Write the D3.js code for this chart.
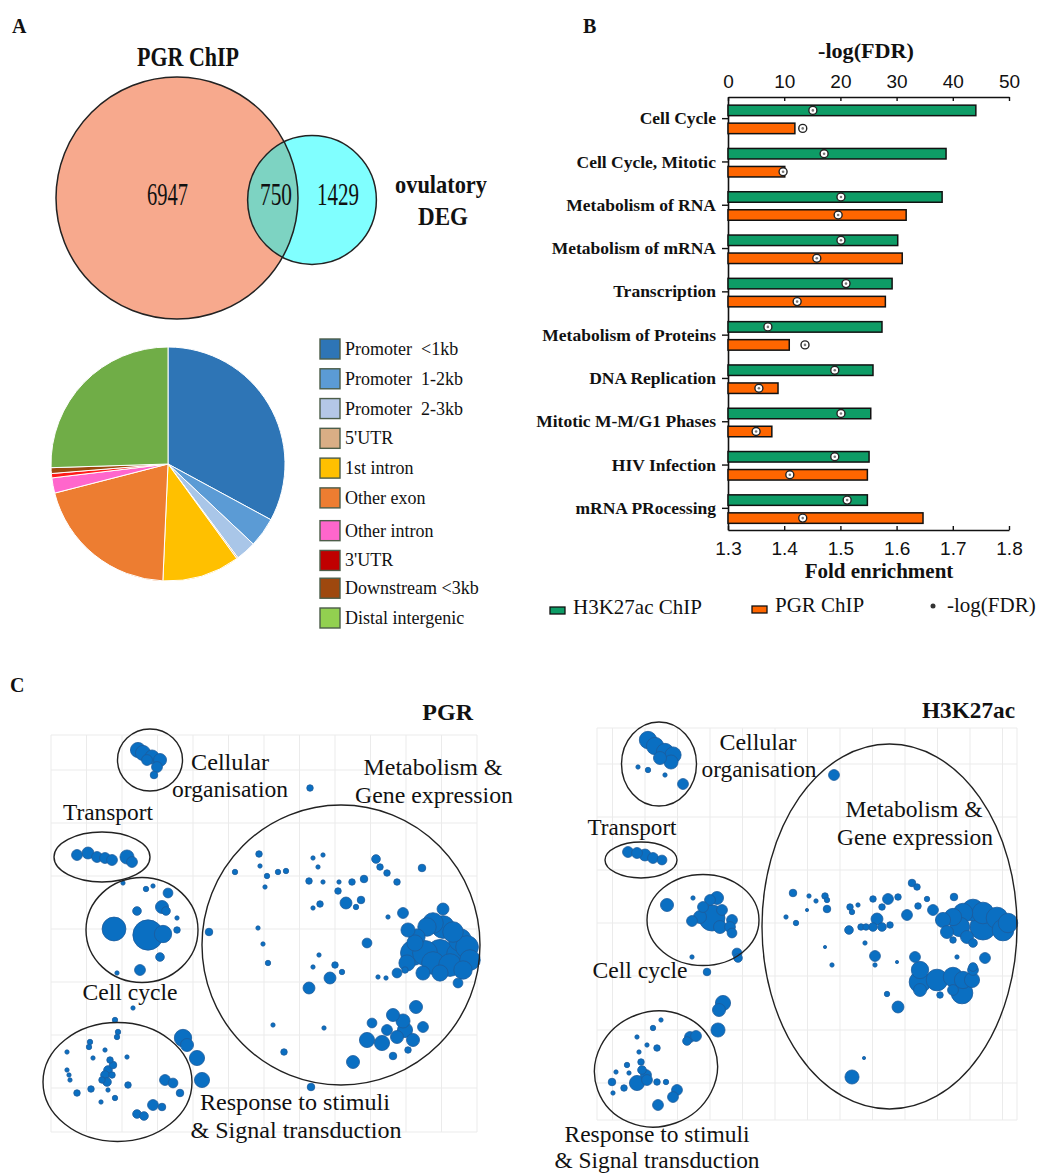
<!DOCTYPE html>
<html>
<head>
<meta charset="utf-8">
<script src="https://cdn.jsdelivr.net/npm/d3@7"></script>
<style>
  body { margin: 0; background: #fff; }
  svg { display: block; }
  text { font-family: "Liberation Serif", "Times New Roman", serif; fill: #111; white-space: pre; }
</style>
</head>
<body>
<svg id="fig" width="1044" height="1175"></svg>
<script>
// ---------- Panel A: overlap of PGR ChIP targets and ovulatory DEGs ----------
const vennOnlyPGR = 6947;
const vennShared = 750;
const vennOnlyDEG = 1429;

// ---------- Panel A: genomic distribution of PGR peaks ----------
const peakCategories = ["Promoter  <1kb", "Promoter  1-2kb", "Promoter  2-3kb", "5'UTR", "1st intron",
  "Other exon", "Other intron", "3'UTR", "Downstream <3kb", "Distal intergenic"];
const peakPercent = [32.9, 4.1, 2.8, 0.2, 10.7, 20.3, 2.1, 0.6, 0.8, 25.5];
const pieColors = ["#2E75B6", "#5B9BD5", "#A9C6E8", "#D9AE85", "#FFC000", "#ED7D31", "#FF66CC", "#FF1A1A", "#9E480E", "#70AD47"];
const legendColors = ["#2E75B6", "#5B9BD5", "#B4C7E7", "#D9AE85", "#FFC000", "#ED7D31", "#FF66CC", "#C00000", "#9E480E", "#92D050"];

// ---------- Panel B: Reactome pathway enrichment ----------
const pathways = ["Cell Cycle", "Cell Cycle, Mitotic", "Metabolism of RNA", "Metabolism of mRNA", "Transcription",
  "Metabolism of Proteins", "DNA Replication", "Mitotic M-M/G1 Phases", "HIV Infection", "mRNA PRocessing"];
const foldH3K27ac = [1.741, 1.688, 1.681, 1.602, 1.592, 1.574, 1.558, 1.554, 1.551, 1.548];
const foldPGR     = [1.419, 1.401, 1.617, 1.610, 1.580, 1.409, 1.389, 1.378, 1.548, 1.647];
const fdrH3K27ac  = [15.1, 17.1, 20.1, 20.1, 21.0, 7.1, 19.0, 20.1, 19.0, 21.2];
const fdrPGR      = [13.3, 9.8, 19.6, 15.8, 12.3, 13.7, 5.5, 5.0, 11.0, 13.3];
const fdrTicks  = [0, 10, 20, 30, 40, 50];
const foldTicks = [1.3, 1.4, 1.5, 1.6, 1.7, 1.8];

// ---------- Panel C: GO terms in semantic space [x, y, size] ----------
const pgrTerms = [
  [8.7,38.2,7],[9.2,37.9,7],[10.1,37.5,6.5],[10.9,37.2,6],[10.6,36.5,5],[10.3,35.7,3.5],[9.6,37.2,5],
  [25.9,34.4,3],
  [2.6,27.7,5],[3.7,27.9,5.5],[4.6,27.5,5],[5.4,27.4,5],[6.1,27.2,5],[7.6,27.5,6.5],[8.1,27.0,5],
  [7.2,24.9,2],[9.5,24.3,2.5],[10.2,24.6,2],[11.7,23.9,4.5],[8.6,22.1,4],[11.1,22.5,6],[11.5,22.1,4],
  [12.6,21.4,2],[6.3,20.3,11],[9.7,19.7,14],[11.2,19.8,8],[12.6,20.2,3],[10.9,17.5,4],[8.9,16.2,5],[6.6,15.9,2],
  [15.8,20.0,3.5],[20.8,27.8,3],[20.9,26.6,2],[18.4,26.0,2.5],[21.6,25.6,2.5],[21.4,24.5,2],[22.7,26.0,2.5],
  [23.5,26.1,2.5],[26.2,27.4,2],[27.2,27.7,2],[26.7,26.5,2],[25.8,25.1,3],[27.2,25.0,2],[28.8,25.0,2],
  [30.1,25.0,3],[31.3,25.3,3.5],[28.7,24.1,3],[29.5,22.9,5.5],[31.0,23.2,3.5],[30.5,22.5,2.5],[26.9,22.8,3],
  [26.2,22.4,2],[32.5,27.3,4],[32.9,26.5,3],[33.6,25.9,3],[34.6,25.0,3],[37.1,26.4,3.5],[33.7,21.5,2],
  [35.2,21.9,5],[20.7,20.4,2],[21.2,18.8,2],[21.7,16.9,2.5],[31.6,18.9,4.5],[26.8,17.7,2],[26.2,16.5,2],
  [28.4,16.7,3],[29.1,16.0,2.5],[27.9,15.4,5.5],[25.8,14.4,5.5],[32.7,15.5,2],[33.5,15.4,2],[34.6,15.9,4.5],
  [35.4,16.2,3],[40.7,14.9,4.5],[39.2,22.3,5.5],
  [35.7,20.2,6.5],[36.6,19.5,7.5],[37.6,20.5,8.5],[38.2,20.9,9.5],[39.2,20.5,10.5],[40.2,20.0,9.5],[40.9,19.2,10.5],
  [41.6,18.5,10.5],[36.2,17.9,11.5],[37.4,17.9,11.5],[38.9,17.9,12.5],[40.9,17.7,12.5],[41.9,17.2,9.5],[38.2,16.9,10.5],
  [39.9,16.7,10.5],[37.2,15.9,6.5],[38.9,15.9,7.5],[41.2,16.2,8.5],[35.6,16.9,7.5],[36.4,18.9,7.5],
  [36.5,12.5,6],[34.2,11.7,6],[35.2,11.1,6.5],[32.1,10.9,4.5],[33.6,10.2,5],[31.6,9.2,7],[33.1,8.9,7],
  [34.6,9.5,6],[35.4,10.2,7],[36.2,9.2,6],[37.2,10.5,5],[35.7,8.2,3],[34.2,7.6,3.5],[30.2,7.0,6],
  [22.2,10.7,2],[27.3,10.4,2],[23.3,8.0,3],[26.0,4.5,3.5],
  [13.2,9.4,8],[13.6,8.7,6],[14.6,7.4,7],[15.1,5.2,7],
  [6.4,11.2,2.5],[8.2,12.4,2],[6.7,10.0,2.5],[6.6,9.5,2.5],[3.9,9.0,2.5],[3.8,8.5,2.5],[1.6,8.0,2],
  [5.4,8.2,2],[7.6,7.5,2],[4.2,7.4,2],[5.9,7.2,3],[6.2,6.7,3.5],[5.7,6.2,4],[5.4,5.7,4],[6.1,5.7,3],
  [5.1,5.2,3],[5.6,5.0,4],[1.6,6.2,2],[1.8,5.7,2],[1.9,5.2,2],[7.7,4.7,3],[2.6,3.9,3],[4.0,4.3,3],
  [5.0,3.0,2],[6.4,3.4,2.5],[11.4,5.2,5],[12.2,4.9,4.5],[12.9,3.9,3.5],[10.2,2.7,5],[11.1,2.5,3.5],
  [8.6,1.8,4],[9.3,1.6,4],[5.7,4.2,2]
];

const h3Terms = [
  [5.1,38.0,8],[5.8,37.4,8],[6.8,36.8,8],[7.6,36.5,7.5],[7.4,35.8,6.5],[6.3,36.2,6],
  [4.1,35.3,2],[5.1,35.0,2.5],[6.8,34.5,2],[8.6,33.6,5],
  [23.7,34.5,5],
  [3.1,26.8,5],[4.0,26.7,5],[4.8,26.5,5.5],[5.6,26.2,5],[6.5,26.0,4.5],
  [7.0,21.5,6],[9.6,22.2,2],[11.3,22.0,5],[12.0,22.2,6],[10.6,21.3,5],[11.5,20.2,12],[10.3,20.3,6],
  [9.5,19.9,5],[12.5,21.0,5],[13.5,20.0,5],[13.3,19.3,5],[12.3,19.3,6],[13.5,18.7,4.5],[9.5,16.3,2],
  [14.0,16.7,4.5],[14.1,16.2,4],[11.0,14.8,3.5],
  [12.6,11.7,7],[12.2,11.0,6],[12.1,9.0,6.5],
  [6.4,10.0,2],[5.6,9.2,2.5],[9.3,8.3,5],[9.9,8.4,5],[9.0,7.9,4],[4.0,8.3,2],[5.0,7.5,2],[6.0,7.2,3],
  [4.2,6.8,2],[4.4,5.8,3],[3.0,5.5,2.5],[4.5,5.0,4],[4.9,4.5,5],[5.0,4.0,5],[4.0,3.7,7],[1.9,4.8,2],
  [3.2,4.7,2],[1.5,3.8,3.5],[2.7,3.2,3],[1.6,2.7,2],[6.0,3.8,3],[6.9,3.8,2.5],[8.0,3.0,5],[7.6,2.3,5],
  [6.1,1.5,5],
  [31.5,23.7,3.5],[32.0,23.3,3],[19.6,22.7,3.5],[21.2,22.4,2],[21.9,21.9,2],[22.8,22.4,3],[23.0,22.0,2.5],
  [27.6,22.1,3],[29.1,22.1,5],[30.1,22.3,3],[33.0,22.1,2.5],[35.7,22.3,3.5],[25.3,21.3,3],[25.5,20.8,2.5],
  [26.1,21.5,2],[28.5,21.3,3],[23.0,21.1,3.5],[32.1,21.4,3],[31.0,20.5,5],[18.9,20.3,2],[19.9,19.7,2.5],
  [21.0,21.0,1.5],[28.0,20.1,5.5],[27.6,19.3,4],[28.5,19.3,4],[29.3,19.5,3],[26.4,19.3,3],[26.9,19.3,3],
  [25.2,19.0,4],[26.8,17.7,2],[22.8,17.3,1.5],[27.8,16.4,5],[27.8,15.5,2],[23.5,15.5,2],[30.0,15.8,1.5],
  [36.0,16.3,2],[38.8,16.2,5],
  [33.6,21.0,5],[34.6,20.0,7],[35.6,20.3,8],[36.6,20.7,9],[37.6,21.0,10],[38.6,20.7,10],[40.0,20.2,10],
  [41.1,19.7,9],[36.3,19.3,9],[38.6,19.3,12],[40.6,19.0,10],[35.0,18.8,6],[37.0,18.3,6],[37.6,17.7,4],
  [35.6,18.0,3],
  [31.8,16.3,5],[32.3,15.0,8],[32.3,13.8,10],[34.0,14.0,10],[35.6,14.3,9],[36.6,14.0,8],[37.6,15.0,5],
  [37.5,14.0,7],[36.5,12.7,10],[34.3,12.5,3],[35.6,13.0,5],[37.6,15.3,4],[32.3,13.0,6],
  [29.0,12.6,2.5],[30.1,11.3,5.5],[26.7,6.2,1.5],[25.5,4.3,6.5]
];

// Cluster outlines [cx, cy, rx, ry, rotation] in the same semantic units
const pgrClusters = [[9.9,37.2,3.25,3.1,0],[5.1,27.5,4.8,2.5,0],[9.1,20.2,5.6,5.25,0],[6.65,5.0,7.45,5.95,0],[29.0,18.7,13.9,14.0,0]];
const h3Clusters  = [[6.2,35.6,3.75,4.2,0],[4.4,26.0,3.6,1.8,0],[10.6,20.0,5.6,4.55,0],[5.9,5.1,6.2,5.75,-20],[29.25,19.35,12.75,18.25,0]];

// Grid lines of the semantic space plots
const pgrGridX = d3.range(0, 42.65, 3.55);
const pgrGridY = [0, 4.4, 9.7, 15.0, 20.3, 25.6, 30.9, 36.2, 39.7];
const h3GridX = [0].concat(d3.range(1.55, 42, 3.25)).concat([42]);
const h3GridY = [0, 3.7, 9.0, 14.4, 19.7, 25.0, 30.3, 35.6, 39.2];

const svg = d3.select("#fig");

function label(g, x, y, str, size, opts = {}) {
  const t = g.append("text").attr("x", x).attr("y", y).attr("font-size", size).text(str);
  if (opts.bold) t.attr("font-weight", "bold");
  if (opts.anchor) t.attr("text-anchor", opts.anchor);
  if (opts.width) t.attr("textLength", opts.width).attr("lengthAdjust", "spacingAndGlyphs");
  if (opts.family) t.style("font-family", opts.family);
  return t;
}

// ================= Panel A =================
const gA = svg.append("g");
label(gA, 12, 33, "A", 20, { bold: true });
label(gA, 188, 66, "PGR ChIP", 27, { bold: true, anchor: "middle", width: 102 });

const vennR = d3.scaleSqrt().domain([0, vennOnlyPGR + vennShared]).range([0, 121]);
const bigR = vennR(vennOnlyPGR + vennShared);
const smallR = vennR(vennOnlyDEG + vennShared);
const bigC = [177, 198], smallC = [312, 200];

svg.append("defs").append("clipPath").attr("id", "bigClip")
  .append("circle").attr("cx", bigC[0]).attr("cy", bigC[1]).attr("r", bigR);

gA.append("circle").attr("cx", bigC[0]).attr("cy", bigC[1]).attr("r", bigR).attr("fill", "#F7A98D");
gA.append("circle").attr("cx", smallC[0]).attr("cy", smallC[1]).attr("r", smallR).attr("fill", "#80FFFF");
gA.append("circle").attr("cx", smallC[0]).attr("cy", smallC[1]).attr("r", smallR)
  .attr("fill", "#7DD3C2").attr("clip-path", "url(#bigClip)");
gA.append("circle").attr("cx", bigC[0]).attr("cy", bigC[1]).attr("r", bigR)
  .attr("fill", "none").attr("stroke", "#222").attr("stroke-width", 1.5);
gA.append("circle").attr("cx", smallC[0]).attr("cy", smallC[1]).attr("r", smallR)
  .attr("fill", "none").attr("stroke", "#222").attr("stroke-width", 1.5);

label(gA, 167.5, 205, String(vennOnlyPGR), 31, { anchor: "middle", width: 41 });
label(gA, 276, 205, String(vennShared), 31, { anchor: "middle", width: 32 });
label(gA, 338, 205, String(vennOnlyDEG), 31, { anchor: "middle", width: 42 });
label(gA, 441, 193, "ovulatory", 25, { bold: true, anchor: "middle", width: 92 });
label(gA, 443, 225, "DEG", 25, { bold: true, anchor: "middle", width: 50 });

// pie of peak annotation
const pieData = peakCategories.map((c, i) => ({ c, v: peakPercent[i], i }));
const arcs = d3.pie().sort(null).value(d => d.v)(pieData);
const arcGen = d3.arc().innerRadius(0).outerRadius(117);
const gPie = gA.append("g").attr("transform", "translate(168,464)");
gPie.selectAll("path").data(arcs).join("path")
  .attr("d", arcGen)
  .attr("fill", d => pieColors[d.data.i])
  .attr("stroke", "#fff").attr("stroke-width", 1);

const legRowY = d3.scalePoint().domain(peakCategories).range([349, 617]);
const gLeg = gA.append("g");
peakCategories.forEach((c, i) => {
  const cy = legRowY(c) + (i >= 6 ? 3 : 0) - (i >= 8 ? 2 : 0);
  gLeg.append("rect").attr("x", 320).attr("y", cy - 10).attr("width", 20).attr("height", 20)
    .attr("fill", legendColors[i]).attr("stroke", "#4c5d49").attr("stroke-width", 1.4);
  label(gLeg, 345, cy + 6, c, 18);
});

// ================= Panel B =================
const gB = svg.append("g");
label(gB, 583, 33, "B", 20, { bold: true });

const foldX = d3.scaleLinear().domain([1.3, 1.8]).range([728, 1009]);
const fdrX = d3.scaleLinear().domain([0, 50]).range([728, 1009]);
const yBand = d3.scaleBand().domain(pathways).range([97, 530]);

label(gB, 866, 58, "-log(FDR)", 21, { bold: true, anchor: "middle", width: 96 });

const axTop = gB.append("g").attr("transform", "translate(0,97)")
  .call(d3.axisTop(fdrX).tickValues(fdrTicks).tickSizeInner(-4).tickSizeOuter(0).tickPadding(9));
const axBot = gB.append("g").attr("transform", "translate(0,530)")
  .call(d3.axisBottom(foldX).tickValues(foldTicks).tickFormat(d3.format(".1f")).tickSizeInner(-4).tickSizeOuter(0).tickPadding(12));
const axLeft = gB.append("g").attr("transform", "translate(728,0)")
  .call(d3.axisLeft(yBand).tickSizeInner(6).tickSizeOuter(0).tickPadding(6));

[axTop, axBot, axLeft].forEach(ax => {
  ax.select(".domain").attr("stroke", "#111").attr("stroke-width", 1.6);
  ax.selectAll(".tick line").attr("stroke", "#111").attr("stroke-width", 1.4);
});
[axTop, axBot].forEach(ax => ax.selectAll(".tick text")
  .attr("font-size", 19).attr("fill", "#1a1a40")
  .style("font-family", "'Liberation Sans', Arial, sans-serif"));
axLeft.selectAll(".tick text").attr("font-size", 17.5).attr("font-weight", "bold")
  .style("font-family", "'Liberation Serif', 'Times New Roman', serif").attr("fill", "#111");

label(gB, 879, 578, "Fold enrichment", 21, { bold: true, anchor: "middle" });

const bw = yBand.bandwidth();
const barRows = pathways.map((p, i) => ({ p, g: foldH3K27ac[i], o: foldPGR[i], fg: fdrH3K27ac[i], fo: fdrPGR[i] }));
const gBars = gB.append("g");
gBars.selectAll("rect.h3").data(barRows).join("rect").attr("class", "h3")
  .attr("x", foldX(1.3)).attr("y", d => yBand(d.p) + bw / 2 - 13.5)
  .attr("width", d => foldX(d.g) - foldX(1.3)).attr("height", 10.5)
  .attr("fill", "#0E9C66").attr("stroke", "#111").attr("stroke-width", 1.5);
gBars.selectAll("rect.pgr").data(barRows).join("rect").attr("class", "pgr")
  .attr("x", foldX(1.3)).attr("y", d => yBand(d.p) + bw / 2 + 4.5)
  .attr("width", d => foldX(d.o) - foldX(1.3)).attr("height", 10.5)
  .attr("fill", "#FF6600").attr("stroke", "#111").attr("stroke-width", 1.5);

function fdrDot(g, x, y) {
  g.append("circle").attr("cx", x).attr("cy", y).attr("r", 4)
    .attr("fill", "#fff").attr("stroke", "#222").attr("stroke-width", 1.4);
  g.append("circle").attr("cx", x).attr("cy", y).attr("r", 1.3).attr("fill", "#777");
}
barRows.forEach(d => {
  fdrDot(gBars, fdrX(d.fg), yBand(d.p) + bw / 2 - 8.25);
  fdrDot(gBars, fdrX(d.fo), yBand(d.p) + bw / 2 + 9.75);
});

// legend
gB.append("rect").attr("x", 550).attr("y", 607).attr("width", 15).attr("height", 7)
  .attr("fill", "#0E9C66").attr("stroke", "#111").attr("stroke-width", 1.3);
label(gB, 573, 614, "H3K27ac ChIP", 21);
gB.append("rect").attr("x", 752).attr("y", 606).attr("width", 15).attr("height", 7)
  .attr("fill", "#FF6600").attr("stroke", "#111").attr("stroke-width", 1.3);
label(gB, 775, 612, "PGR ChIP", 21);
gB.append("circle").attr("cx", 933).attr("cy", 606).attr("r", 2.5).attr("fill", "#333");
label(gB, 947, 612, "-log(FDR)", 21);

// ================= Panel C =================
const gC = svg.append("g");
label(gC, 10, 692, "C", 20, { bold: true });

const bubbleR = d3.scaleLinear().domain([0, 12]).range([0, 13]);

function semanticPlot(terms, clusters, gx, gy, xs, ys) {
  const g = gC.append("g");
  g.append("g").selectAll("line.v").data(gx).join("line")
    .attr("x1", d => xs(d)).attr("x2", d => xs(d))
    .attr("y1", ys.range()[0]).attr("y2", ys.range()[1])
    .attr("stroke", "#ebebeb").attr("stroke-width", 1);
  g.append("g").selectAll("line.h").data(gy).join("line")
    .attr("y1", d => ys(d)).attr("y2", d => ys(d))
    .attr("x1", xs.range()[0]).attr("x2", xs.range()[1])
    .attr("stroke", "#ebebeb").attr("stroke-width", 1);
  const sorted = terms.slice().sort((a, b) => b[2] - a[2]);
  g.append("g").selectAll("circle").data(sorted).join("circle")
    .attr("cx", d => xs(d[0])).attr("cy", d => ys(d[1])).attr("r", d => bubbleR(d[2]))
    .attr("fill", "#0A6FC2").attr("stroke", "#1d5c9c").attr("stroke-width", 0.8);
  g.append("g").selectAll("ellipse").data(clusters).join("ellipse")
    .attr("cx", d => xs(d[0])).attr("cy", d => ys(d[1]))
    .attr("rx", d => xs(d[2]) - xs(0)).attr("ry", d => ys(0) - ys(d[3]))
    .attr("transform", d => `rotate(${d[4]},${xs(d[0])},${ys(d[1])})`)
    .attr("fill", "none").attr("stroke", "#222").attr("stroke-width", 1.4);
  return g;
}

const pgrX = d3.scaleLinear().domain([0, 42.6]).range([51, 477]);
const pgrY = d3.scaleLinear().domain([0, 39.7]).range([1132, 735]);
const h3X = d3.scaleLinear().domain([0, 42]).range([597, 1017]);
const h3Y = d3.scaleLinear().domain([0, 39.2]).range([1120, 728]);

const gP = semanticPlot(pgrTerms, pgrClusters, pgrGridX, pgrGridY, pgrX, pgrY);
const gH = semanticPlot(h3Terms, h3Clusters, h3GridX, h3GridY, h3X, h3Y);

label(gP, 473, 720, "PGR", 24, { bold: true, anchor: "end" });
label(gP, 230, 770, "Cellular", 24, { anchor: "middle", width: 78 });
label(gP, 230, 797, "organisation", 24, { anchor: "middle", width: 116 });
label(gP, 433, 775, "Metabolism &", 24, { anchor: "middle", width: 139 });
label(gP, 434, 803, "Gene expression", 24, { anchor: "middle", width: 158 });
label(gP, 108, 820, "Transport", 24, { anchor: "middle", width: 90 });
label(gP, 130, 1000, "Cell cycle", 24, { anchor: "middle", width: 95 });
label(gP, 295, 1110, "Response to stimuli", 24, { anchor: "middle", width: 190 });
label(gP, 296, 1138, "& Signal transduction", 24, { anchor: "middle", width: 211 });

label(gH, 1015, 718, "H3K27ac", 23, { bold: true, anchor: "end", width: 93 });
label(gH, 758, 750, "Cellular", 24, { anchor: "middle", width: 77 });
label(gH, 759, 777, "organisation", 24, { anchor: "middle", width: 115 });
label(gH, 914, 817, "Metabolism &", 24, { anchor: "middle", width: 137 });
label(gH, 915, 845, "Gene expression", 24, { anchor: "middle", width: 156 });
label(gH, 632, 835, "Transport", 24, { anchor: "middle", width: 89 });
label(gH, 640, 978, "Cell cycle", 24, { anchor: "middle", width: 95 });
label(gH, 657, 1142, "Response to stimuli", 23, { anchor: "middle", width: 185 });
label(gH, 657, 1168, "& Signal transduction", 23, { anchor: "middle", width: 205 });
</script>
</body>
</html>
